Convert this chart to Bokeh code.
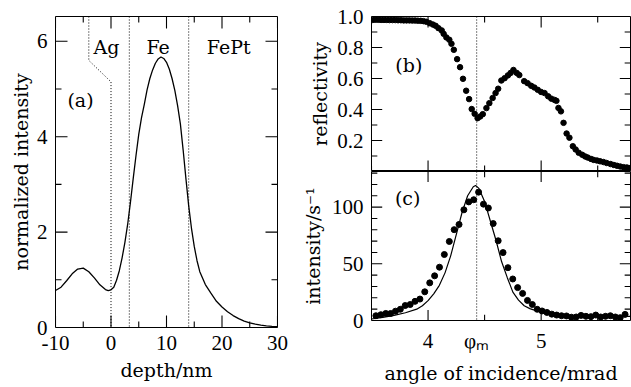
from bokeh.plotting import figure
from bokeh.layouts import row, column
from bokeh.models import Range1d, FixedTicker, Label, Span, Title, PrintfTickFormatter
from bokeh.embed import file_html
from bokeh.resources import INLINE

# ---------------- data ----------------
# (a) standing-wave intensity vs depth
depth_nm = [-10, -9, -8, -7, -6, -5, -4, -3, -2, -1, -0.5, 0, 0.5, 1, 1.5, 2, 2.5, 3, 3.5,
            4, 4.5, 5, 5.5, 6, 6.5, 7, 7.5, 8, 8.5, 9, 9.5, 10, 10.5, 11, 11.5, 12, 12.5,
            13, 13.5, 14, 14.5, 15, 15.5, 16, 17, 18, 19, 20, 21, 22, 23, 24, 25, 26, 27,
            28, 29, 30]
norm_intensity = [0.775, 0.845, 0.98, 1.125, 1.225, 1.245, 1.17, 1.04, 0.895, 0.795, 0.775,
                  0.79, 0.845, 0.99, 1.19, 1.46, 1.78, 2.16, 2.62, 3.12, 3.6, 4.05, 4.4,
                  4.68, 4.98, 5.22, 5.4, 5.54, 5.63, 5.67, 5.64, 5.56, 5.42, 5.22, 4.97,
                  4.65, 4.27, 3.72, 3.12, 2.55, 2.08, 1.7, 1.4, 1.17, 0.9, 0.72, 0.55, 0.43,
                  0.33, 0.25, 0.185, 0.135, 0.098, 0.07, 0.05, 0.035, 0.025, 0.018]
# Ag surface profile (dotted)
ag_profile_x = [-4.0, -4.0, 0.0, 0.0]
ag_profile_y = [6.52, 5.6, 5.15, 0.0]
interfaces_nm = [3.3, 14.0]
layer_names = ["Ag", "Fe", "FePt"]
layer_label_x = [-0.8, 8.5, 21.2]
layer_label_y = [5.88, 5.88, 5.88]

# (b) reflectivity
refl_angle = [3.510, 3.535, 3.560, 3.585, 3.610, 3.635, 3.660, 3.685, 3.710, 3.735, 3.760,
              3.785, 3.810, 3.835, 3.860, 3.885, 3.910, 3.935, 3.960, 3.985, 4.015, 4.043,
              4.067, 4.092, 4.121, 4.138, 4.162, 4.188, 4.207, 4.228, 4.257, 4.283, 4.309,
              4.337, 4.363, 4.386, 4.412, 4.438, 4.461, 4.484, 4.516, 4.542, 4.571, 4.597,
              4.620, 4.648, 4.677, 4.706, 4.730, 4.755, 4.784, 4.807, 4.850, 4.880, 4.912,
              4.940, 4.970, 5.000, 5.030, 5.062, 5.090, 5.118, 5.135, 5.153, 5.175, 5.198,
              5.225, 5.250, 5.280, 5.305, 5.332, 5.363, 5.389, 5.412, 5.441, 5.464, 5.493,
              5.521, 5.551, 5.579, 5.614, 5.643, 5.671, 5.700, 5.729, 5.758, 5.785]
reflectivity = [0.978, 0.979, 0.979, 0.978, 0.978, 0.978, 0.977, 0.977, 0.977, 0.976, 0.976,
                0.975, 0.975, 0.975, 0.974, 0.974, 0.973, 0.972, 0.970, 0.966, 0.957, 0.948,
                0.940, 0.925, 0.910, 0.888, 0.865, 0.850, 0.824, 0.785, 0.725, 0.673, 0.598,
                0.521, 0.467, 0.403, 0.372, 0.344, 0.355, 0.370, 0.409, 0.441, 0.474, 0.506,
                0.534, 0.587, 0.602, 0.620, 0.636, 0.655, 0.636, 0.622, 0.583, 0.570, 0.553,
                0.542, 0.527, 0.513, 0.506, 0.485, 0.470, 0.462, 0.456, 0.410, 0.388, 0.314,
                0.245, 0.218, 0.163, 0.142, 0.121, 0.108, 0.097, 0.090, 0.081, 0.075, 0.071,
                0.066, 0.061, 0.055, 0.048, 0.042, 0.037, 0.032, 0.028, 0.026, 0.022]

# (c) fluorescence intensity
int_angle = [3.539, 3.583, 3.626, 3.669, 3.712, 3.755, 3.798, 3.842, 3.885, 3.928, 3.971,
             4.015, 4.058, 4.101, 4.144, 4.188, 4.231, 4.274, 4.317, 4.360, 4.404, 4.447,
             4.490, 4.533, 4.576, 4.620, 4.663, 4.706, 4.749, 4.792, 4.836, 4.879, 4.922,
             4.965, 5.008, 5.051, 5.094, 5.137, 5.180, 5.224, 5.267, 5.310, 5.353, 5.396,
             5.440, 5.483, 5.526, 5.569, 5.612, 5.656, 5.699, 5.742]
intensity = [4.2, 5.1, 6.2, 6.2, 8.2, 9.9, 13.2, 14.1, 16.9, 18.9, 25.3, 33.2, 39.4, 47.0,
             58.2, 69.7, 80.1, 84.7, 97.6, 104.6, 106.5, 113.2, 102.6, 99.2, 85.5, 70.3,
             59.9, 46.6, 36.6, 29.0, 23.9, 17.7, 14.1, 9.9, 8.4, 7.1, 5.6, 4.8, 4.2, 4.0,
             2.9, 3.1, 4.5, 3.7, 3.4, 4.8, 3.1, 3.7, 4.2, 3.1, 2.5, 5.4]
fit_angle = [3.50, 3.60, 3.70, 3.80, 3.90, 3.95, 4.00, 4.05, 4.10, 4.15, 4.20, 4.25, 4.30,
             4.35, 4.40, 4.42, 4.45, 4.50, 4.55, 4.60, 4.65, 4.70, 4.75, 4.80, 4.85, 4.90,
             5.00, 5.10, 5.20, 5.30, 5.40, 5.50, 5.60, 5.79]
fit_intensity = [1.3, 2.8, 4.5, 6.8, 10.0, 13.0, 17.5, 23.5, 31, 42, 57, 76, 95, 110, 118,
                 119, 116.5, 105, 88, 71, 52, 38, 25, 18, 13, 10.5, 7.2, 5.6, 4.8, 4.3, 4.0,
                 3.9, 3.8, 3.7]
phi_m = 4.43

# tick positions
a_xticks, a_xminor = [-10, 0, 10, 20, 30], [-5, 5, 15, 25]
a_yticks, a_yminor = [0, 2, 4, 6], [1, 3, 5]
ang_ticks, ang_minor = [4, 5], [3.5, 4.5, 5.5]
b_yticks, b_yminor = [0.2, 0.4, 0.6, 0.8, 1.0], [0.1, 0.3, 0.5, 0.7, 0.9]
c_yticks = [0, 50, 100]
c_yminor = [10, 20, 30, 40, 60, 70, 80, 90, 110, 120, 130]

# ---------------- style ----------------
TICK_FONT = "Liberation Serif"
TEXT_FONT = "DejaVu Serif"
TICK_SIZE = "21px"
TEXT_SIZE = "19px"
NAN = float("nan")


def label_axis(ax, ticks, standoff):
    """Axis that only carries tick labels (tick marks are drawn inside the frame)."""
    ax.ticker = FixedTicker(ticks=ticks, minor_ticks=[])
    ax.major_tick_in = 0
    ax.major_tick_out = 0
    ax.minor_tick_in = 0
    ax.minor_tick_out = 0
    ax.major_tick_line_color = None
    ax.minor_tick_line_color = None
    ax.axis_line_color = None
    ax.major_label_text_font = TICK_FONT
    ax.major_label_text_font_size = TICK_SIZE
    ax.major_label_text_color = "black"
    ax.major_label_standoff = standoff


def frame_ticks(p, xr, yr, fw, fh, xt, xm, yt, ym, maj, mnr):
    """Inward tick marks on all four frame edges (lengths in screen pixels),
    drawn as one broken polyline."""
    kx = (xr[1] - xr[0]) / fw
    ky = (yr[1] - yr[0]) / fh
    xs, ys = [], []
    for ticks, L in ((xt, maj), (xm, mnr)):
        for t in ticks:
            xs += [t, t, NAN, t, t, NAN]
            ys += [yr[0], yr[0] + L * ky, NAN, yr[1], yr[1] - L * ky, NAN]
    for ticks, L in ((yt, maj), (ym, mnr)):
        for t in ticks:
            xs += [xr[0], xr[0] + L * kx, NAN, xr[1], xr[1] - L * kx, NAN]
            ys += [t, t, NAN, t, t, NAN]
    p.line(xs, ys, line_color="black", line_width=1.1)


def axis_title(p, text, side, standoff):
    p.add_layout(Title(text=text, align="center", text_font=TEXT_FONT,
                       text_font_size=TEXT_SIZE, text_font_style="normal",
                       text_color="black", standoff=standoff), side)


def base_fig(w, h, xr, yr, bl, br, bt, bb):
    p = figure(width=w, height=h, x_range=Range1d(*xr), y_range=Range1d(*yr),
               output_backend="svg", toolbar_location=None,
               min_border_left=bl, min_border_right=br, min_border_top=bt,
               min_border_bottom=bb)
    p.xgrid.visible = False
    p.ygrid.visible = False
    p.outline_line_color = "black"
    p.outline_line_width = 1
    p.outline_line_alpha = 1
    p.background_fill_color = "white"
    p.border_fill_color = "white"
    return p


def text_label(p, x, y, t, size=TEXT_SIZE):
    p.add_layout(Label(x=x, y=y, text=t, text_font=TEXT_FONT, text_font_size=size,
                       text_align="center", text_baseline="middle", text_color="black"))

# ---------------- panel (a) ----------------
xr_a, yr_a = (-10, 30), (0, 6.52)
A_W, A_H, A_L, A_R, A_T, A_B = 295, 387, 55, 18, 16, 60
pa = base_fig(A_W, A_H, xr_a, yr_a, A_L, A_R, A_T, A_B)
label_axis(pa.xaxis[0], a_xticks, 8)
pa.xaxis[0].major_label_overrides = {-10: "-10"}
label_axis(pa.yaxis[0], a_yticks, 8)
axis_title(pa, "depth/nm", "below", 8)
axis_title(pa, "normalized intensity", "left", 4)
frame_ticks(pa, xr_a, yr_a, A_W - A_L - A_R, A_H - A_T - A_B,
            a_xticks, a_xminor, a_yticks, a_yminor, 12, 6)

pa.line(ag_profile_x, ag_profile_y, line_color="black", line_width=1, line_dash="1 2")
for xi in interfaces_nm:
    pa.add_layout(Span(location=xi, dimension="height", line_color="black",
                       line_width=1, line_dash="1 2"))
pa.line(depth_nm, norm_intensity, line_color="black", line_width=1.3)
for nm, lx, ly in zip(layer_names, layer_label_x, layer_label_y):
    text_label(pa, lx, ly, nm)
text_label(pa, -5.5, 4.76, "(a)")

# ---------------- panel (b) ----------------
xr_ang = (3.5, 5.79)
R_W, R_L, R_R = 336, 69, 1
yr_b = (0, 1.0)
B_H, B_T = 171, 16
pb = base_fig(R_W, B_H, xr_ang, yr_b, R_L, R_R, B_T, 0)
pb.xaxis[0].visible = False
label_axis(pb.yaxis[0], b_yticks, 8)
pb.yaxis[0].formatter = PrintfTickFormatter(format="%.1f")
axis_title(pb, "reflectivity", "left", 8)
frame_ticks(pb, xr_ang, yr_b, R_W - R_L - R_R, B_H - B_T,
            ang_ticks, ang_minor, b_yticks, b_yminor, 11, 6)
pb.add_layout(Span(location=phi_m, dimension="height", line_color="black",
                   line_width=1, line_dash="1 2"))
pb.scatter(refl_angle, reflectivity, size=5.5, color="black")
text_label(pb, 3.83, 0.688, "(b)")

# ---------------- panel (c) ----------------
yr_c = (0, 131.4)
C_H, C_B = 216, 60
pc = base_fig(R_W, C_H, xr_ang, yr_c, R_L, R_R, 0, C_B)
label_axis(pc.xaxis[0], [4, phi_m, 5], 8)
pc.xaxis[0].major_label_overrides = {phi_m: "\u03c6\u2098"}
label_axis(pc.yaxis[0], c_yticks, 8)
axis_title(pc, "angle of incidence/mrad", "below", 8)
axis_title(pc, "intensity/s\u207b\u00b9", "left", 9)
frame_ticks(pc, xr_ang, yr_c, R_W - R_L - R_R, C_H - C_B,
            ang_ticks, ang_minor, c_yticks, c_yminor, 11, 6)
pc.add_layout(Span(location=phi_m, dimension="height", line_color="black",
                   line_width=1, line_dash="1 2"))
pc.line(fit_angle, fit_intensity, line_color="black", line_width=1.2)
pc.scatter(int_angle, intensity, size=6, color="black")
text_label(pc, 3.82, 108, "(c)")

layout = row(pa, column(pb, pc))
open("out.html", "w").write(file_html(layout, INLINE))
